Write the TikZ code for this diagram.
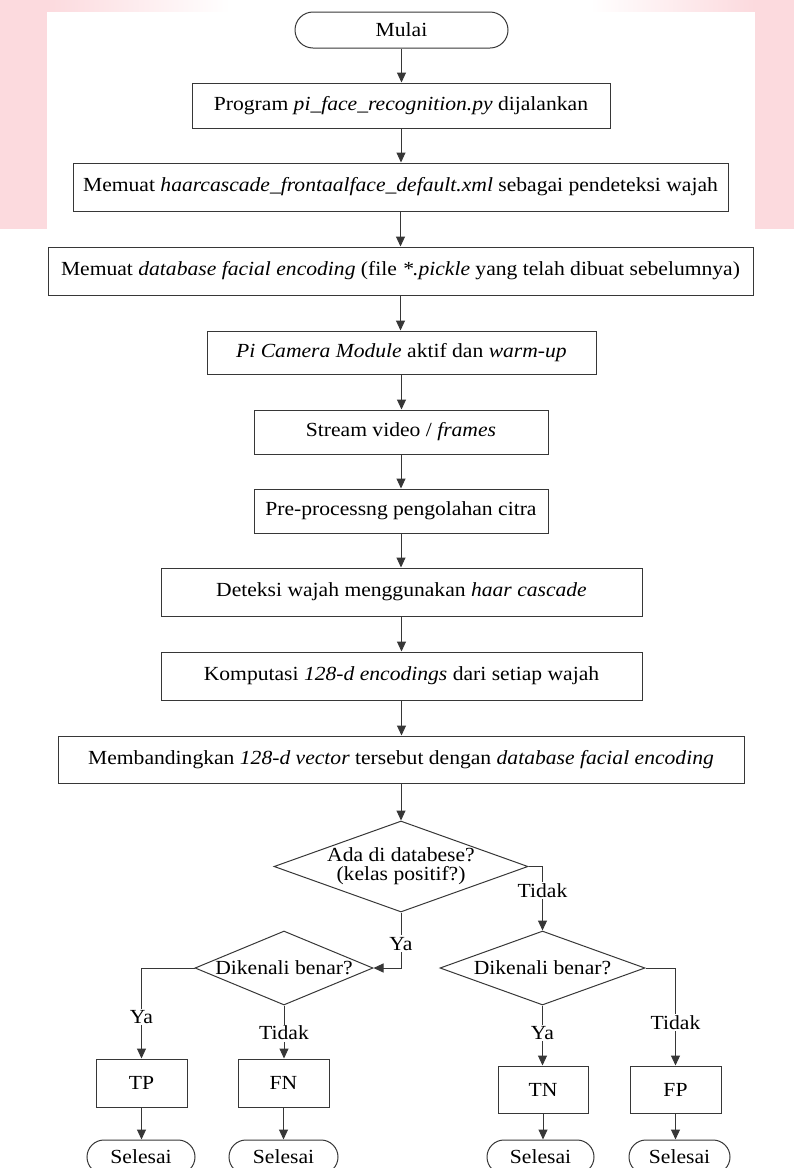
\documentclass[tikz,border=0pt]{standalone}
\usepackage{fontspec}
\setmainfont{Liberation Serif}[FakeStretch=1.08]
\usetikzlibrary{shapes.geometric,arrows.meta,calc}
\definecolor{wm}{RGB}{252,218,222}
\definecolor{ln}{RGB}{55,55,55}
\begin{document}
\begin{tikzpicture}[x=1pt,y=-1pt,
  every node/.style={font=\fontsize{20}{19}\selectfont, text=black},
  proc/.style={draw=ln, line width=1pt, rectangle, inner sep=0pt},
  term/.style={draw=ln, line width=1pt, rectangle, rounded corners=17pt, inner sep=0pt, minimum height=34pt},
  dec/.style={draw=ln, line width=1pt, diamond, inner sep=0pt},
  conn/.style={draw=ln, line width=1pt, -{Triangle[length=10pt,width=9pt]}},
  lbl/.style={fill=white, inner sep=1.5pt}
]
\useasboundingbox (0,0) rectangle (794,1168);
% watermark tint
\fill[wm] (0,0) rectangle (47,229);
\fill[wm] (755,0) rectangle (794,229);
\shade[left color=wm, right color=white] (47,0) rectangle (230,11);
\shade[left color=white, right color=wm] (590,0) rectangle (755,11);

\node[term, minimum width=213pt, minimum height=36pt, rounded corners=18pt] (mulai) at (401.5,30) {Mulai};
\node[proc, minimum width=418pt, minimum height=45pt] (b1) at (401,105.5) {Program \textit{pi\_face\_recognition.py} dijalankan};
\node[proc, minimum width=655pt, minimum height=48pt] (b2) at (400.5,187) {Memuat \textit{haarcascade\_frontaalface\_default.xml} sebagai pendeteksi wajah};
\node[proc, minimum width=705pt, minimum height=48pt] (b3) at (400.5,271) {Memuat \textit{database facial encoding} (file \textit{*.pickle} yang telah dibuat sebelumnya)};
\node[proc, minimum width=389pt, minimum height=43pt] (b4) at (401.5,352.5) {\textit{Pi Camera Module} aktif dan \textit{warm-up}};
\node[proc, minimum width=294pt, minimum height=44pt] (b5) at (401,432) {Stream video / \textit{frames}};
\node[proc, minimum width=294pt, minimum height=44pt] (b6) at (401,511) {Pre-processng pengolahan citra};
\node[proc, minimum width=481pt, minimum height=48pt] (b7) at (401.5,592) {Deteksi wajah menggunakan \textit{haar cascade}};
\node[proc, minimum width=481pt, minimum height=48pt] (b8) at (401.5,676) {Komputasi \textit{128-d encodings} dari setiap wajah};
\node[proc, minimum width=686pt, minimum height=47pt] (b9) at (401,759.5) {Membandingkan \textit{128-d vector} tersebut dengan \textit{database facial encoding}};

\node[dec, minimum width=254pt, minimum height=91pt,
  label={[align=center, font=\fontsize{20}{19}\selectfont]center:Ada di databese?\\(kelas positif?)}] (d1) at (401,866.5) {};
\node[dec, minimum width=178pt, minimum height=74pt, label={center:Dikenali benar?}] (d2) at (284,968) {};
\node[dec, minimum width=205pt, minimum height=74pt, label={center:Dikenali benar?}] (d3) at (542.5,968) {};

\node[proc, minimum width=91pt, minimum height=48pt] (tp) at (141.5,1083) {TP};
\node[proc, minimum width=91pt, minimum height=48pt] (fn) at (283.5,1083) {FN};
\node[proc, minimum width=90pt, minimum height=47pt] (tn) at (543,1089.5) {TN};
\node[proc, minimum width=91pt, minimum height=47pt] (fp) at (675.5,1089.5) {FP};

\node[term, minimum width=108pt] (s1) at (141,1157) {Selesai};
\node[term, minimum width=109pt] (s2) at (283.5,1157) {Selesai};
\node[term, minimum width=107pt] (s3) at (540.5,1157) {Selesai};
\node[term, minimum width=101pt] (s4) at (679.5,1157) {Selesai};

\draw[conn] (mulai.south) -- (mulai.south |- b1.north);
\draw[conn] (b1.south) -- (b1.south |- b2.north);
\draw[conn] (b2.south) -- (b2.south |- b3.north);
\draw[conn] (b3.south) -- (b3.south |- b4.north);
\draw[conn] (b4.south) -- (b4.south |- b5.north);
\draw[conn] (b5.south) -- (b5.south |- b6.north);
\draw[conn] (b6.south) -- (b6.south |- b7.north);
\draw[conn] (b7.south) -- (b7.south |- b8.north);
\draw[conn] (b8.south) -- (b8.south |- b9.north);
\draw[conn] (b9.south) -- (b9.south |- d1.north);

\draw[conn] (d1.east) -| node[lbl, pos=0.69] {Tidak} (d3.north);
\draw[conn] (d1.south) |- node[lbl, pos=0.28] {Ya} (d2.east);
\draw[conn] (d2.west) -| node[lbl, pos=0.77] {Ya} (tp.north);
\draw[conn] (d2.south) -- node[lbl, pos=0.52] {Tidak} (d2.south |- fn.north);
\draw[conn] (d3.south) -- node[lbl, pos=0.46] {Ya} (d3.south |- tn.north);
\draw[conn] (d3.east) -| node[lbl, pos=0.78] {Tidak} (fp.north);

\draw[conn] (tp.south) -- (tp.south |- s1.north);
\draw[conn] (fn.south) -- (fn.south |- s2.north);
\draw[conn] (tn.south) -- (tn.south |- s3.north);
\draw[conn] (fp.south) -- (fp.south |- s4.north);
\end{tikzpicture}
\end{document}
